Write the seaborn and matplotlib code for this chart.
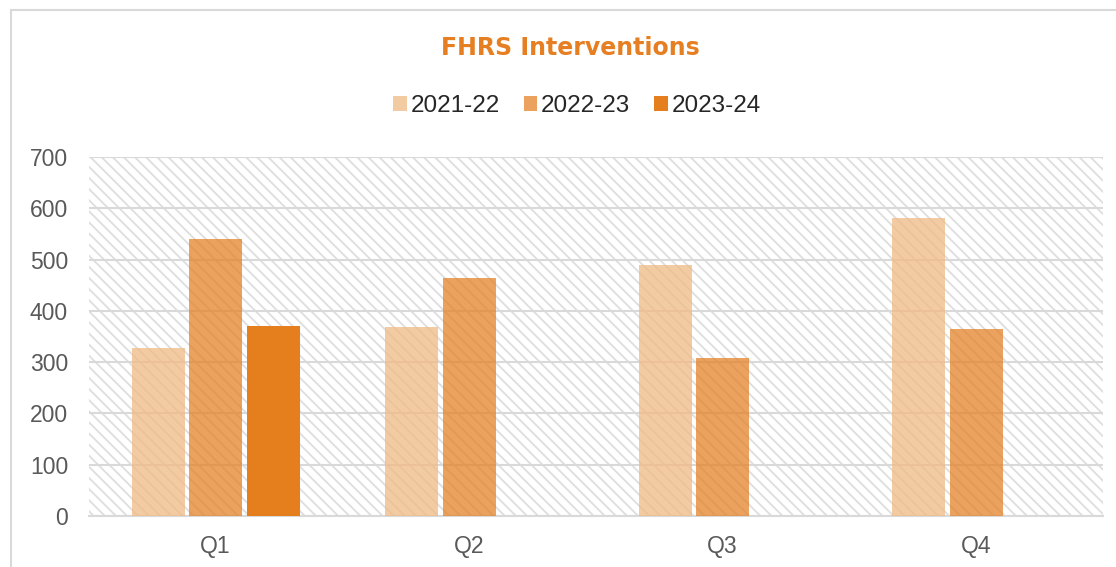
import numpy as np
import pandas as pd
import matplotlib
matplotlib.use('Agg')
import matplotlib.pyplot as plt
import seaborn as sns
from matplotlib.patches import Rectangle

quarters = ['Q1', 'Q2', 'Q3', 'Q4']
seasons = ['2021-22', '2022-23', '2023-24']
v_2122 = [328, 369, 489, 581]
v_2223 = [541, 464, 308, 364]
v_2324 = [371, np.nan, np.nan, np.nan]
yticks = [0, 100, 200, 300, 400, 500, 600, 700]

df = pd.DataFrame({
    'Quarter': quarters * 3,
    'Season': [s for s in seasons for _ in quarters],
    'Value': v_2122 + v_2223 + v_2324,
})
df = df.dropna()

sns.set_style('white')
plt.rcParams['font.family'] = ['Liberation Sans', 'DejaVu Sans']
plt.rcParams['hatch.linewidth'] = 1.3

fig = plt.figure(figsize=(11.16, 5.67), dpi=100)
ax = fig.add_axes([0.0797, 0.09, 0.9085, 0.633])

# chart frame
fig.patches.append(Rectangle((11 / 1116, -0.05), 1.2, 1 - 10 / 567 + 0.05,
                             transform=fig.transFigure, fill=False,
                             edgecolor='#D9D9D9', linewidth=1.5, zorder=0))

# hatched plot background
ax.add_patch(Rectangle((0, 0), 1, 1, transform=ax.transAxes, facecolor='white',
                       edgecolor='#DEDEDE', hatch='\\\\\\', linewidth=0, zorder=0))

palette = {'2021-22': '#F0BA83', '2022-23': '#E38328', '2023-24': '#E57F1E'}
sns.barplot(data=df, x='Quarter', y='Value', hue='Season', order=quarters,
            hue_order=seasons, palette=palette, width=0.68, gap=0.08,
            linewidth=0, saturation=1, ax=ax, zorder=3)
alphas = [0.75, 0.75, 1.0]
for cont, a in zip(ax.containers, alphas):
    for p in cont:
        p.set_alpha(a)

ax.set_ylim(0, 700)
ax.set_yticks(yticks)
ax.yaxis.grid(True, color='#D9D9D9', linewidth=1.5, zorder=1)
ax.set_axisbelow(True)
for s in ['top', 'right', 'left']:
    ax.spines[s].set_visible(False)
ax.spines['bottom'].set_color('#D9D9D9')
ax.spines['bottom'].set_linewidth(1.5)
ax.tick_params(axis='both', length=0, labelsize=16.5, labelcolor='#595959')
ax.tick_params(axis='y', pad=15)
ax.tick_params(axis='x', pad=14)
ax.set_xlabel('')
ax.set_ylabel('')

handles, labels = ax.get_legend_handles_labels()
ax.legend_.remove()
for h, a in zip(handles, alphas):
    h.set_alpha(a)
fig.legend(handles, labels, loc='center', bbox_to_anchor=(0.517, 0.813), ncol=3,
           frameon=False, fontsize=17.5, handlelength=0.55, handleheight=0.55,
           handletextpad=0.15, columnspacing=1.0, labelcolor='#262626')

fig.text(0.511, 0.915, 'FHRS Interventions', ha='center', va='center',
         fontsize=17, fontweight='bold', color='#E67E22', family='DejaVu Sans')

fig.savefig('out.png', dpi=100)
